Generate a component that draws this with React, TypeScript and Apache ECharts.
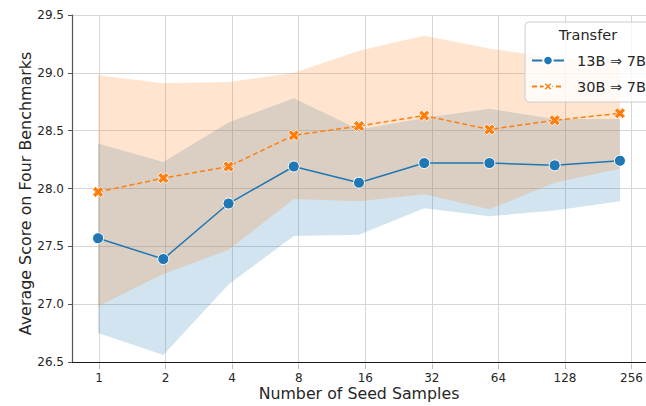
import React, { useEffect, useRef } from "react";
import * as echarts from "echarts";

const xLabels = ["1", "2", "4", "8", "16", "32", "64", "128", "256"];
const blueName = "13B ⇒ 7B";
const orangeName = "30B ⇒ 7B";
const blueMean = [27.57, 27.39, 27.87, 28.19, 28.05, 28.22, 28.22, 28.2, 28.24];
const blueUpper = [28.39, 28.23, 28.57, 28.78, 28.51, 28.61, 28.69, 28.6, 28.6];
const blueLower = [26.75, 26.56, 27.17, 27.59, 27.6, 27.83, 27.76, 27.81, 27.89];
const orangeMean = [27.97, 28.09, 28.19, 28.46, 28.54, 28.63, 28.51, 28.59, 28.65];
const orangeUpper = [28.98, 28.91, 28.92, 29.0, 29.19, 29.32, 29.21, 29.13, 29.09];
const orangeLower = [26.98, 27.26, 27.47, 27.91, 27.89, 27.95, 27.82, 28.05, 28.17];
const yTicks = { min: 26.5, max: 29.5, interval: 0.5 };

const FONT = "DejaVu Sans";
const BLUE = "#1f77b4";
const ORANGE = "#ff7f0e";
const TXT = "#262626";
const GRID = "#d6d6d6";
const X_PATH = "path://M0,2.6L2.6,0L5,2.4L7.4,0L10,2.6L7.6,5L10,7.4L7.4,10L5,7.6L2.6,10L0,7.4L2.4,5Z";

function bandSeries(lower: number[], upper: number[], color: string) {
  return {
    type: "custom",
    silent: true,
    z: 1,
    xAxisIndex: 0,
    yAxisIndex: 0,
    data: lower.map((v, i) => [i, v, upper[i]]),
    encode: { x: 0, y: [1, 2] },
    renderItem: (params: any, api: any) => {
      if (params.dataIndex !== 0) return null;
      const pts: number[][] = [];
      for (let i = 0; i < upper.length; i++) pts.push(api.coord([i, upper[i]]));
      for (let i = lower.length - 1; i >= 0; i--) pts.push(api.coord([i, lower[i]]));
      return {
        type: "polygon",
        shape: { points: pts },
        style: { fill: color, stroke: "none" },
      };
    },
  };
}

export default function App() {
  const ref = useRef<HTMLDivElement>(null);
  useEffect(() => {
    document.body.style.margin = "0";
    if (!ref.current) return;
    const chart = echarts.init(ref.current, undefined, { renderer: "svg" });
    chart.setOption({
      animation: false,
      backgroundColor: "#ffffff",
      textStyle: { fontFamily: FONT },
      grid: [
        { left: 72, top: 15, width: 587, height: 350 },
        { left: 99, top: 15, width: 533, height: 350 },
      ],
      xAxis: [
        {
          type: "value",
          gridIndex: 0,
          min: -0.4,
          max: 8.4,
          axisLine: { show: true, onZero: false, lineStyle: { color: "#1a1a1a", width: 1.2 } },
          axisTick: { show: false },
          axisLabel: { show: false },
          splitLine: { show: false },
          name: "Number of Seed Samples",
          nameLocation: "middle",
          nameGap: 23,
          nameMoveOverlap: false,
          nameTextStyle: { fontSize: 15.8, color: TXT, fontFamily: FONT },
        },
        {
          type: "category",
          gridIndex: 1,
          data: xLabels,
          boundaryGap: false,
          axisLine: { show: false },
          axisTick: { show: true, length: 4, lineStyle: { color: "#bbbbbb" } },
          axisLabel: { fontSize: 12, margin: 7, color: TXT, interval: 0, fontFamily: FONT },
          splitLine: { show: true, lineStyle: { color: GRID, width: 1 } },
        },
      ],
      yAxis: [
        {
          type: "value",
          gridIndex: 0,
          min: yTicks.min,
          max: yTicks.max,
          interval: yTicks.interval,
          axisLine: { show: true, onZero: false, lineStyle: { color: "#555555", width: 1.2 } },
          axisTick: { show: true, length: 4, lineStyle: { color: "#555555" } },
          axisLabel: {
            fontSize: 12,
            margin: 8,
            color: TXT,
            fontFamily: FONT,
            formatter: (v: number) => v.toFixed(1),
          },
          splitLine: { show: true, lineStyle: { color: GRID, width: 1 } },
          name: "Average Score on Four Benchmarks",
          nameLocation: "middle",
          nameGap: 39,
          nameMoveOverlap: false,
          nameTextStyle: { fontSize: 15.9, color: TXT, fontFamily: FONT, padding: [0, 10, 0, 0] },
        },
        { type: "value", gridIndex: 1, show: false, min: 0, max: 1 },
      ],
      legend: {
        orient: "vertical",
        left: 525,
        top: 22,
        data: [blueName, orangeName],
        itemWidth: 32,
        itemHeight: 12,
        itemGap: 11,
        padding: [31, 40, 8, 6],
        backgroundColor: "rgba(255,255,255,0.8)",
        borderColor: "#cccccc",
        borderWidth: 1,
        borderRadius: 4,
        textStyle: { fontSize: 14.5, color: TXT, fontFamily: FONT, padding: [0, 0, 0, 8] },
      },
      graphic: [
        {
          type: "text",
          x: 588,
          y: 35,
          z: 100,
          style: {
            text: "Transfer",
            fill: TXT,
            font: `14.5px "${FONT}"`,
            align: "center",
            verticalAlign: "middle",
            textAlign: "center",
            textVerticalAlign: "middle",
          },
        },
      ],
      series: [
        bandSeries(blueLower, blueUpper, "rgba(31,119,180,0.2)"),
        bandSeries(orangeLower, orangeUpper, "rgba(255,127,14,0.2)"),
        {
          name: blueName,
          type: "line",
          data: blueMean.map((v, i) => [i, v]),
          symbol: "circle",
          symbolSize: 11,
          itemStyle: { color: BLUE, borderColor: "#ffffff", borderWidth: 1 },
          lineStyle: { color: BLUE, width: 1.5 },
          z: 5,
        },
        {
          name: orangeName,
          type: "line",
          data: orangeMean.map((v, i) => [i, v]),
          symbol: X_PATH,
          symbolSize: 11,
          itemStyle: { color: ORANGE, borderColor: "#ffffff", borderWidth: 0.8 },
          lineStyle: { color: ORANGE, width: 1.5, type: [5, 3] },
          z: 5,
        },
      ],
    });
    return () => chart.dispose();
  }, []);
  return <div ref={ref} style={{ width: 646, height: 406 }} />;
}
